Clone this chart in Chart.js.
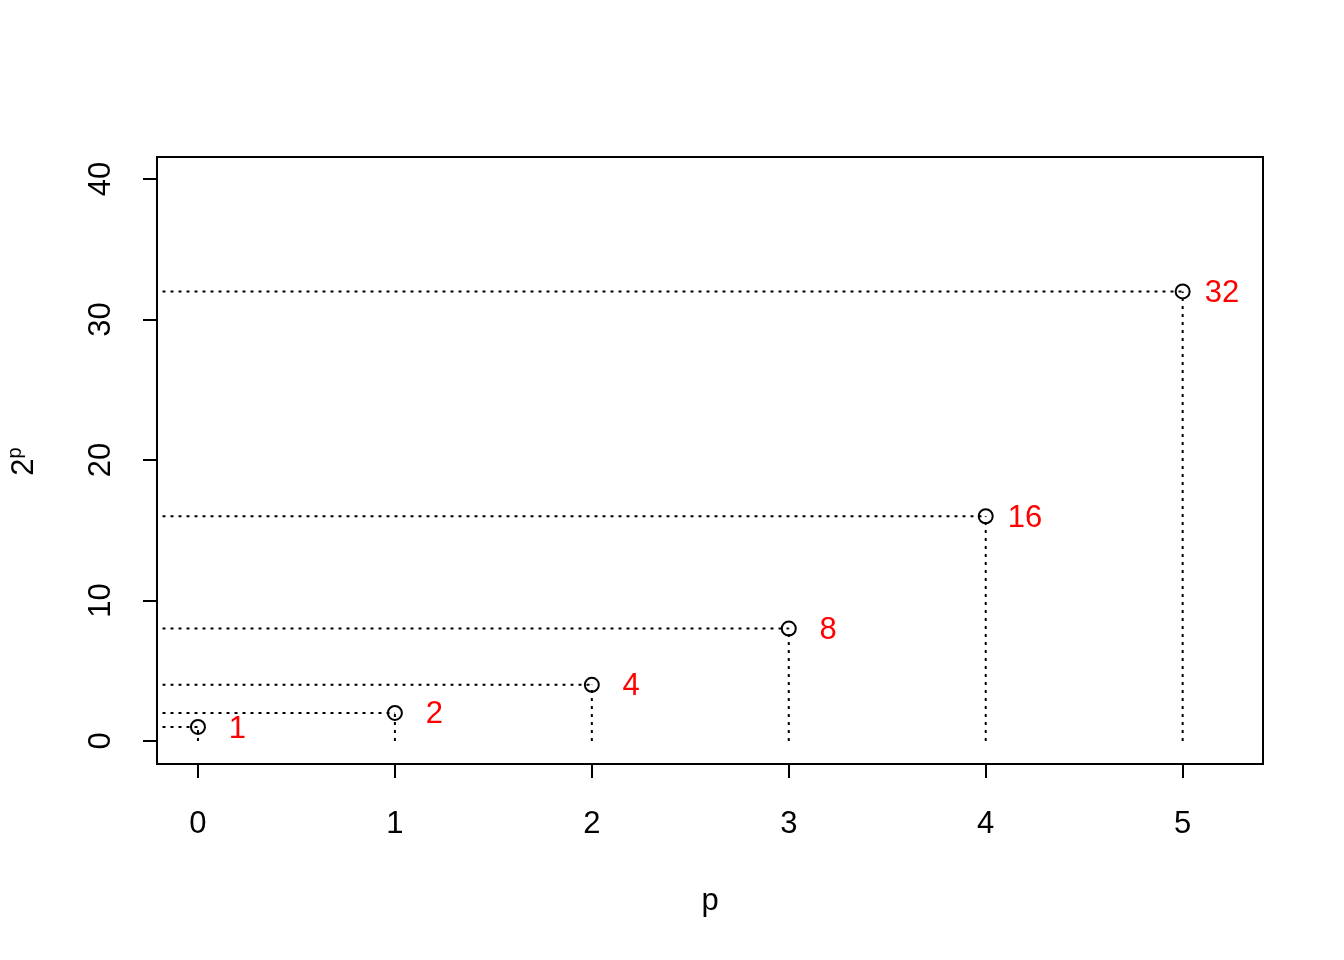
<!DOCTYPE html>
<html>
<head>
<meta charset="utf-8">
<script src="https://cdn.jsdelivr.net/npm/chart.js@4/dist/chart.umd.min.js"></script>
<style>
  body { margin: 0; background: #fff; }
  #wrap { width: 1344px; height: 960px; }
</style>
</head>
<body>
<div id="wrap"><canvas id="powChart" width="1344" height="960"></canvas></div>
<script>
// Powers of two, with guide lines down to the axes

const powers = [0, 1, 2, 3, 4, 5];
const values = [1, 2, 4, 8, 16, 32];
const valueLabels = ['1', '2', '4', '8', '16', '32'];
const xTicks = [0, 1, 2, 3, 4, 5];
const yTicks = [0, 10, 20, 30, 40];

const FONT = '"Liberation Sans", Arial, Helvetica, sans-serif';
const guideStart = -0.18;
const labelShift = 0.2;

// guide segments: horizontal from the left edge, vertical down to zero
const guideSets = [];
powers.forEach((p, i) => {
    guideSets.push({
        type: 'line',
        data: [{ x: guideStart, y: values[i] }, { x: p, y: values[i] }],
        borderColor: '#000',
        borderWidth: 2,
        borderDash: [3, 5],
        pointRadius: 0,
        fill: false
    });
    guideSets.push({
        type: 'line',
        data: [{ x: p, y: 0 }, { x: p, y: values[i] }],
        borderColor: '#000',
        borderWidth: 2,
        borderDash: [3, 5],
        pointRadius: 0,
        fill: false
    });
});

// box, tick labels, titles and red value labels
const decorations = {
    id: 'decorations',
    afterDraw(chart) {
        const ctx = chart.ctx;
        const area = chart.chartArea;
        const xs = chart.scales.x;
        const ys = chart.scales.y;
        ctx.save();

        ctx.strokeStyle = '#000';
        ctx.lineWidth = 2;
        ctx.strokeRect(area.left, area.top, area.right - area.left, area.bottom - area.top);

        ctx.fillStyle = '#000';
        ctx.font = '31px ' + FONT;
        ctx.textAlign = 'center';
        ctx.textBaseline = 'middle';
        xTicks.forEach(v => {
            ctx.fillText(String(v), xs.getPixelForValue(v), 824);
        });
        yTicks.forEach(v => {
            ctx.save();
            ctx.translate(101, ys.getPixelForValue(v));
            ctx.rotate(-Math.PI / 2);
            ctx.fillText(String(v), 0, 0);
            ctx.restore();
        });

        // axis titles
        ctx.fillText('p', (area.left + area.right) / 2, 901);
        ctx.save();
        ctx.translate(24, (area.top + area.bottom) / 2 + 1);
        ctx.rotate(-Math.PI / 2);
        ctx.font = '31px ' + FONT;
        const w2 = ctx.measureText('2').width;
        ctx.font = '20px ' + FONT;
        const wp = ctx.measureText('p').width;
        const startX = -(w2 + wp) / 2;
        ctx.textAlign = 'left';
        ctx.font = '31px ' + FONT;
        ctx.fillText('2', startX, 0);
        ctx.font = '20px ' + FONT;
        ctx.fillText('p', startX + w2, -9);
        ctx.restore();

        // red value labels
        ctx.fillStyle = '#FF0000';
        ctx.font = '31px ' + FONT;
        ctx.textAlign = 'center';
        powers.forEach((p, i) => {
            ctx.fillText(valueLabels[i], xs.getPixelForValue(p + labelShift), ys.getPixelForValue(values[i]) + 2);
        });
        ctx.restore();
    }
};

const ctx = document.getElementById('powChart').getContext('2d');
new Chart(ctx, {
    type: 'scatter',
    data: {
        datasets: [{
            label: '2^p',
            data: powers.map((p, i) => ({ x: p, y: values[i] })),
            pointStyle: 'circle',
            pointRadius: 7,
            pointBorderWidth: 2,
            pointBorderColor: '#000',
            pointBackgroundColor: 'rgba(0,0,0,0)',
            showLine: false
        }, ...guideSets]
    },
    options: {
        responsive: false,
        animation: false,
        events: [],
        layout: { padding: { top: 157, right: 81, left: 0, bottom: 0 } },
        plugins: {
            legend: { display: false },
            tooltip: { enabled: false }
        },
        scales: {
            x: {
                type: 'linear',
                min: -0.208,
                max: 5.408,
                afterBuildTicks: scale => { scale.ticks = xTicks.map(v => ({ value: v })); },
                afterFit: scale => { scale.height = 196; },
                ticks: { display: false },
                border: { display: false },
                grid: { drawOnChartArea: false, drawTicks: true, tickLength: 14, color: '#000', lineWidth: 2 }
            },
            y: {
                type: 'linear',
                min: -1.637,
                max: 41.57,
                afterBuildTicks: scale => { scale.ticks = yTicks.map(v => ({ value: v })); },
                afterFit: scale => { scale.width = 157; },
                ticks: { display: false },
                border: { display: false },
                grid: { drawOnChartArea: false, drawTicks: true, tickLength: 14, color: '#000', lineWidth: 2 }
            }
        }
    },
    plugins: [decorations]
});
</script>
</body>
</html>
